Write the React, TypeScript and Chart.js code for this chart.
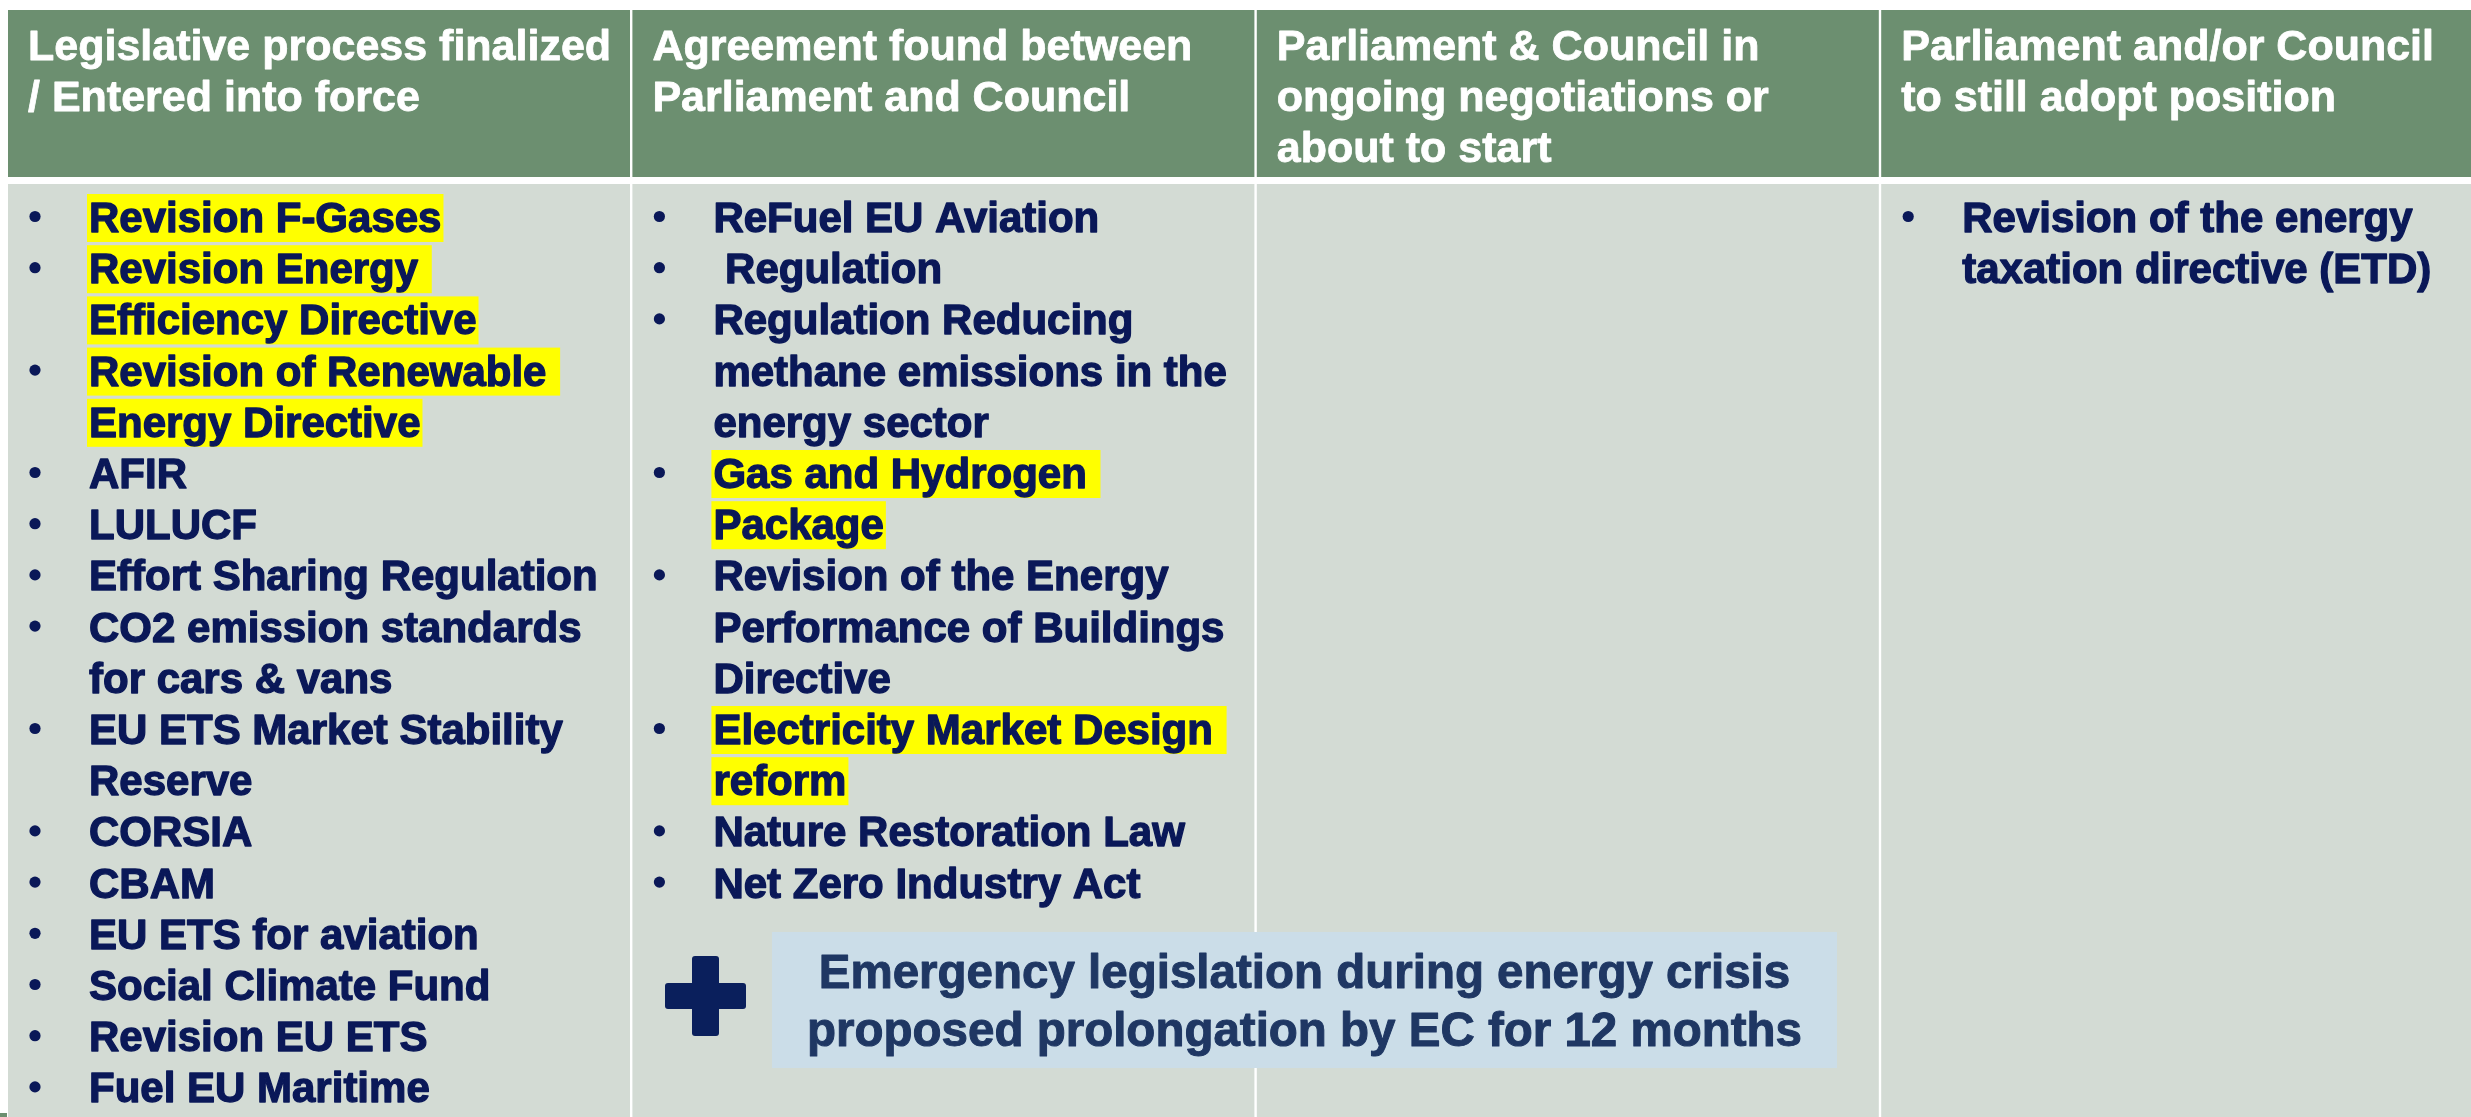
import React, { useEffect, useRef } from "react";
import { Chart, registerables } from "chart.js";

Chart.register(...registerables);

// ---------- DATA ----------
const headerCol1 = ["Legislative process finalized", "/ Entered into force"];
const headerCol2 = ["Agreement found between", "Parliament and Council"];
const headerCol3 = ["Parliament & Council in", "ongoing negotiations or", "about to start"];
const headerCol4 = ["Parliament and/or Council", "to still adopt position"];

const col1Items = [
  ["Revision F-Gases"],
  ["Revision Energy ", "Efficiency Directive"],
  ["Revision of Renewable ", "Energy Directive"],
  ["AFIR"],
  ["LULUCF"],
  ["Effort Sharing Regulation"],
  ["CO2 emission standards", "for cars & vans"],
  ["EU ETS Market Stability", "Reserve"],
  ["CORSIA"],
  ["CBAM"],
  ["EU ETS for aviation"],
  ["Social Climate Fund"],
  ["Revision EU ETS"],
  ["Fuel EU Maritime"],
];
const col1Highlight = [true, true, true, false, false, false, false, false, false, false, false, false, false, false];

const col2Items = [
  ["ReFuel EU Aviation"],
  [" Regulation"],
  ["Regulation Reducing", "methane emissions in the", "energy sector"],
  ["Gas and Hydrogen ", "Package"],
  ["Revision of the Energy", "Performance of Buildings", "Directive"],
  ["Electricity Market Design ", "reform"],
  ["Nature Restoration Law"],
  ["Net Zero Industry Act"],
];
const col2Highlight = [false, false, false, true, false, true, false, false];

const col3Items: string[][] = [];
const col3Highlight: boolean[] = [];

const col4Items = [["Revision of the energy", "taxation directive (ETD)"]];
const col4Highlight = [false];

const noteLines = [
  "Emergency legislation during energy crisis",
  "proposed prolongation by EC for 12 months",
];

// ---------- STYLE / LAYOUT ----------
const W = 2471;
const H = 1117;
const FONT = "'Liberation Sans', Arial, Helvetica, sans-serif";
const GREEN = "#6c8f70";
const GRAY = "#d3dbd4";
const NAVY = "#0a1858";
const YELLOW = "#ffff00";
const BOX_BG = "#cbdde8";
const BOX_TEXT = "#1f3763";

const columns = [
  { header: headerCol1, items: col1Items, hl: col1Highlight },
  { header: headerCol2, items: col2Items, hl: col2Highlight },
  { header: headerCol3, items: col3Items, hl: col3Highlight },
  { header: headerCol4, items: col4Items, hl: col4Highlight },
];

function heavyText(ctx: CanvasRenderingContext2D, t: string, x: number, y: number, color: string, w: number) {
  ctx.fillStyle = color;
  ctx.strokeStyle = color;
  ctx.lineWidth = w;
  ctx.lineJoin = "round";
  ctx.fillText(t, x, y);
  if (w > 0) ctx.strokeText(t, x, y);
}

const tablePlugin = {
  id: "tableDraw",
  afterDraw(chart: any) {
    const ctx: CanvasRenderingContext2D = chart.ctx;
    const xs = chart.scales.x;
    const ys = chart.scales.y;
    const X = (v: number) => xs.getPixelForValue(v);
    const Y = (v: number) => ys.getPixelForValue(v);
    const rect = (x0: number, y0: number, x1: number, y1: number, c: string) => {
      ctx.fillStyle = c;
      ctx.fillRect(X(x0), Y(y0), X(x1) - X(x0), Y(y1) - Y(y0));
    };

    ctx.save();
    rect(0, 0, W, H, "#ffffff");

    const left0 = 8;
    const pitch = 624.4;
    const colW = 622;
    const top = 10;
    const headBottom = 177;
    const bodyTop = 184;

    columns.forEach((col, ci) => {
      const L = left0 + ci * pitch;
      rect(L, top, L + colW, headBottom, GREEN);
      rect(L, bodyTop, L + colW, H + 20, GRAY);

      // header text
      ctx.font = `bold 43px ${FONT}`;
      ctx.textAlign = "left";
      ctx.textBaseline = "alphabetic";
      col.header.forEach((t, li) => {
        heavyText(ctx, t, X(L + 20), Y(60 + li * 51), "#ffffff", 0.8);
      });

      // body items
      ctx.font = `bold 42px ${FONT}`;
      let line = 0;
      const base0 = 232;
      const lh = 51.2;
      col.items.forEach((lines, ii) => {
        lines.forEach((t, k) => {
          const b = base0 + line * lh;
          const tx = L + 81;
          if (col.hl[ii]) {
            const tw = ctx.measureText(t).width;
            const lead = t.startsWith(" ") ? ctx.measureText(" ").width : 0;
            ctx.fillStyle = YELLOW;
            ctx.fillRect(X(tx - 2 + lead), Y(b - 38), tw - lead + 4, 48);
          }
          if (k === 0) {
            ctx.fillStyle = NAVY;
            ctx.beginPath();
            ctx.arc(X(L + 27), Y(b - 15.5), 5.6, 0, Math.PI * 2);
            ctx.fill();
          }
          heavyText(ctx, t, X(tx), Y(b), NAVY, 1.3);
          line++;
        });
      });
    });

    // small green fragment at bottom-left
    rect(0, 1113, 7, H, GREEN);

    // note box
    rect(772, 932, 1837, 1068, BOX_BG);
    ctx.font = `bold 47.5px ${FONT}`;
    ctx.textAlign = "center";
    noteLines.forEach((t, i) => {
      heavyText(ctx, t, X(1304.5), Y(988 + i * 58), BOX_TEXT, 1.0);
    });

    // plus sign
    ctx.fillStyle = "#0a1f5c";
    const rr = (x0: number, y0: number, x1: number, y1: number) => {
      ctx.beginPath();
      if ((ctx as any).roundRect) (ctx as any).roundRect(X(x0), Y(y0), X(x1) - X(x0), Y(y1) - Y(y0), 3);
      else ctx.rect(X(x0), Y(y0), X(x1) - X(x0), Y(y1) - Y(y0));
      ctx.fill();
    };
    rr(692, 956, 719, 1036);
    rr(665, 983, 746, 1009);

    ctx.restore();
  },
};

export default function App() {
  const ref = useRef<HTMLCanvasElement | null>(null);
  useEffect(() => {
    document.body.style.margin = "0";
    document.body.style.overflow = "hidden";
    const canvas = ref.current!;
    const chart = new Chart(canvas, {
      type: "scatter",
      data: { datasets: [{ data: [] }] },
      options: {
        responsive: false,
        animation: false,
        devicePixelRatio: 1,
        layout: { padding: 0 },
        plugins: { legend: { display: false }, tooltip: { enabled: false }, title: { display: false } },
        scales: {
          x: { type: "linear", min: 0, max: W, display: false },
          y: { type: "linear", min: 0, max: H, reverse: true, display: false },
        },
      },
      plugins: [tablePlugin],
    });
    let alive = true;
    if ((document as any).fonts && (document as any).fonts.load) {
      (document as any).fonts
        .load(`bold 42px 'Liberation Sans'`)
        .then(() => {
          if (alive) chart.draw();
        })
        .catch(() => {});
    }
    return () => {
      alive = false;
      chart.destroy();
    };
  }, []);
  return (
    <div style={{ width: W, height: H }}>
      <canvas ref={ref} width={W} height={H} style={{ display: "block", width: W, height: H }} />
    </div>
  );
}
